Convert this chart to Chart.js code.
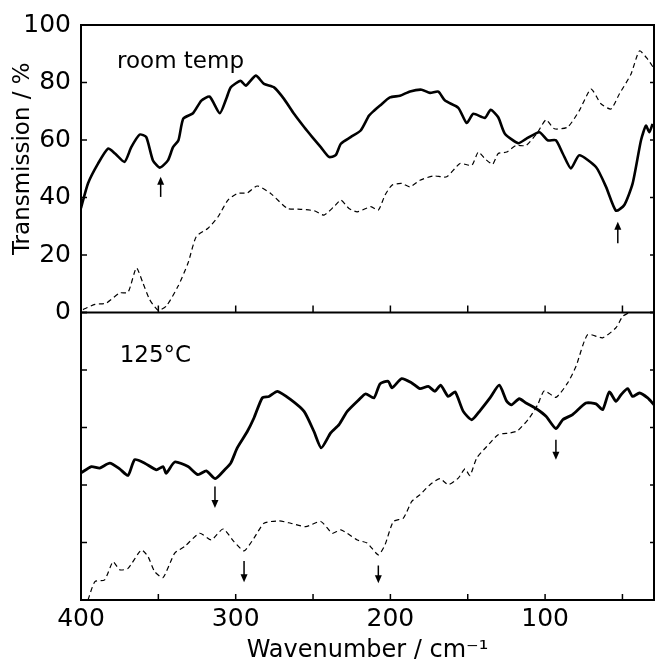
<!DOCTYPE html>
<html>
<head>
<meta charset="utf-8">
<script src="https://cdn.jsdelivr.net/npm/chart.js@4.4.1/dist/chart.umd.min.js"></script>
<style>
  html, body { margin: 0; padding: 0; background: #fff; }
  canvas { display: block; }
</style>
</head>
<body>
<canvas id="spectra" width="656" height="659"></canvas>
<script>
// Far-infrared transmission spectra; wavenumber runs from 400 down to ~30 cm-1.

// Upper panel (room temperature), thick trace
const roomSolidWn = [400, 395.5, 389, 382.5, 378, 371.8, 367.5, 362, 357.8, 353.5, 349, 343.8, 340.5, 337, 333.9, 327.6, 322.2, 316.8, 310.3, 305.8, 303.2, 296.8, 293.5, 287, 281.7, 275.2, 268.8, 262.3, 255.8, 250.5, 245, 239.7, 235.4, 232, 225.7, 219.2, 213.8, 210.6, 206.7, 200.3, 193.8, 187.3, 179.8, 174.4, 169, 164.7, 156.1, 150.7, 146.4, 138.9, 135.2, 130.3, 126, 117.3, 112.3, 103.7, 98.3, 93, 88.6, 83.3, 77.9, 67.1, 60.6, 54.2, 48.8, 43.4, 38, 34.8, 32.6, 30.5];
const roomSolidT  = [36.3, 44.9, 51.8, 57, 55.3, 52.4, 57.5, 61.9, 61, 52.9, 50.4, 52.9, 57.5, 59.9, 67.4, 69.3, 73.7, 75.1, 69.3, 74.8, 78.3, 80.6, 78.9, 82.4, 79.5, 78.3, 74.3, 69.1, 64.5, 61, 57.5, 54.1, 54.7, 58.7, 61, 63.3, 68.5, 70.2, 72, 74.8, 75.4, 76.9, 77.5, 76.4, 76.8, 73.7, 71.2, 65.9, 69.1, 67.7, 70.5, 67.9, 62.2, 58.9, 60.4, 62.7, 59.9, 59.9, 55.3, 50.1, 54.7, 50.6, 43.7, 35.4, 37.4, 44.9, 59.9, 65, 62.7, 65.6];

// Upper panel, thin dashed trace
const roomDashWn = [398.7, 391, 383.6, 375, 369.6, 364.2, 360, 355.6, 350.2, 344.9, 337.3, 330.8, 325.5, 317.9, 311.4, 305, 299, 292.5, 286, 277.4, 266.6, 258, 249.4, 242.9, 236.5, 232, 226.8, 221.4, 212.7, 207.8, 203.5, 199, 192.7, 187.3, 180.9, 172.2, 163.6, 155, 147.4, 143.2, 138.9, 133.9, 130.3, 124.8, 118.8, 112.3, 104.8, 99.4, 94, 85.4, 77.9, 70.3, 63.9, 57.4, 52, 44.5, 39, 33.7, 30];
const roomDashT  = [1, 2.8, 3.3, 6.8, 7, 15.5, 10.3, 4.5, 0.8, 2.2, 9.1, 17.2, 26.4, 29.3, 33.3, 39.1, 41.4, 41.6, 44, 41.4, 36.2, 35.9, 35.4, 33.9, 36.8, 39.1, 36.2, 35, 36.8, 35.6, 40.8, 44.3, 44.9, 43.7, 46, 47.5, 47.2, 51.8, 51.2, 55.8, 53.5, 51.6, 55.3, 55.8, 58.1, 58.1, 62.7, 67, 63.9, 64.5, 70.2, 77.7, 72.6, 70.8, 76, 82.9, 91, 88.1, 85.2];

// Lower panel (125 °C), thick trace
const hotSolidWn = [400, 393.3, 387.9, 381.4, 375, 369.6, 365.3, 358.8, 351.3, 347, 344.9, 339.4, 330.8, 324.4, 319, 313.2, 307.1, 303.2, 299, 292.5, 288.2, 282.8, 278.5, 273, 264.4, 255.8, 249.4, 244.7, 238.6, 233.2, 227.9, 220.3, 216, 210.6, 206.7, 201.4, 199, 192.7, 186.2, 180.9, 175.5, 171.2, 167.5, 162.6, 158.2, 152.9, 147.4, 142, 135.6, 129.6, 124.8, 121.6, 116.7, 112.3, 105.9, 99.4, 93, 88.6, 82.2, 73.6, 67.1, 62.8, 58.5, 54.2, 50.9, 46.6, 43.4, 39, 33.7, 29.6];
const hotSolidT  = [44.2, 46.4, 45.9, 47.6, 45.6, 43.3, 48.8, 47.6, 45.3, 46.4, 44.1, 48, 46.4, 43.6, 44.9, 42.2, 45.3, 47.6, 52.9, 58.6, 63.3, 70.3, 70.8, 72.6, 69.7, 65.6, 58.6, 52.9, 58.1, 61, 65.6, 69.7, 71.7, 70.3, 75.2, 76.1, 73.8, 77, 75.5, 73.5, 74.3, 72.6, 74.7, 70.8, 72.4, 65.6, 62.7, 65.9, 70.3, 74.7, 69.1, 67.9, 70, 68.5, 66.6, 63.9, 59.6, 62.7, 64.5, 68.5, 68.2, 66.2, 72.4, 69.1, 71.4, 73.5, 70.8, 72, 70.3, 67.9];

// Lower panel, thin dashed trace
const hotDashWn = [395.5, 391, 384.7, 379.3, 375, 369.6, 361, 356.7, 352.4, 347, 339.4, 333, 323.3, 315.8, 308.2, 301.1, 294.6, 288.2, 281.7, 272, 264.4, 254.7, 245, 237.5, 232, 221.4, 215, 207.8, 203.5, 198.1, 191.6, 186.2, 180.9, 174.4, 167.9, 162.6, 156.1, 151.8, 148.6, 144.2, 137.7, 130.3, 122.7, 117.7, 110.2, 104.8, 100.5, 93, 85.4, 80, 72.5, 62.8, 54.2, 49.8, 45.6];
const hotDashT  = [0, 6.4, 7, 13.3, 10.5, 11, 17.4, 15.1, 9.9, 7.8, 16.3, 18.6, 23.2, 20.9, 24.7, 20.3, 17.1, 21.5, 26.7, 27.5, 26.7, 25.5, 27.3, 23.2, 24.4, 20.9, 19.8, 15.7, 19.2, 27.3, 28.5, 34.3, 36.6, 40.1, 42.2, 40.1, 42.4, 45.6, 43.3, 49.4, 53.4, 57.5, 58.1, 58.9, 63.3, 67.9, 72.8, 70.5, 75.5, 81.3, 92.3, 91.2, 94.7, 98.7, 100];

// Axis ticks
const tTicks = [0, 20, 40, 60, 80, 100];
const wnLabelTicks = [400, 300, 200, 100];
const wnMarkTicks = [400, 350, 300, 250, 200, 150, 100, 50];

// Band markers: [wavenumber, tail value, head value]
const roomArrows = [[348.5, 40.2, 47.2], [53, 24.1, 31.6]];
const hotArrows = [[313.4, 39.5, 32], [294.6, 13.6, 6.2], [207.8, 12, 5.8], [93, 55.7, 48.8]];

// Panel captions: [text, wavenumber at left edge, value at baseline]
const roomCaption = ['room temp', 376.7, 85.1];
const hotCaption = ['125°C', 375, 82.9];

const FONT = '"DejaVu Sans", sans-serif';
Chart.defaults.font.family = FONT;
Chart.defaults.color = '#000';

const pts = (xs, ys) => xs.map((x, i) => ({ x, y: ys[i] }));

const solid = { borderColor: '#000', borderWidth: 2.6, pointRadius: 0, tension: 0.2, fill: false };
const dashed = { borderColor: '#000', borderWidth: 1.2, borderDash: [5, 3.5], pointRadius: 0, tension: 0.2, fill: false };

const framePlugin = {
  id: 'frameAndMarks',
  afterDatasetsDraw(chart) {
    const { ctx, chartArea: a, scales } = chart;
    const x = scales.x, yTop = scales.yTop, yBot = scales.yBot;
    const seg = (x1, y1, x2, y2) => { ctx.beginPath(); ctx.moveTo(x1, y1); ctx.lineTo(x2, y2); ctx.stroke(); };
    ctx.save();
    ctx.strokeStyle = '#000';
    ctx.fillStyle = '#000';
    ctx.lineCap = 'butt';

    // Frame around both panels and the divider between them
    ctx.lineWidth = 2;
    ctx.strokeRect(a.left, a.top, a.right - a.left, a.bottom - a.top);
    const mid = yTop.bottom;
    seg(a.left, mid, a.right, mid);

    // Inward tick marks
    ctx.lineWidth = 1.5;
    wnMarkTicks.forEach(v => {
      const px = x.getPixelForValue(v);
      seg(px, mid, px, mid - 7);
      seg(px, a.bottom, px, a.bottom - 6);
    });
    [yTop, yBot].forEach(s => tTicks.forEach(v => {
      const py = s.getPixelForValue(v);
      seg(a.left, py, a.left + 6, py);
      seg(a.right, py, a.right - 4, py);
    }));

    // Band-position arrows
    const arrow = (scale, [wn, from, to]) => {
      const px = x.getPixelForValue(wn);
      const y1 = scale.getPixelForValue(from);
      const y2 = scale.getPixelForValue(to);
      const dir = Math.sign(y2 - y1);
      ctx.lineWidth = 1.5;
      seg(px, y1, px, y2 - dir * 6);
      ctx.beginPath();
      ctx.moveTo(px, y2);
      ctx.lineTo(px - 3.5, y2 - dir * 8);
      ctx.lineTo(px + 3.5, y2 - dir * 8);
      ctx.closePath();
      ctx.fill();
    };
    roomArrows.forEach(r => arrow(yTop, r));
    hotArrows.forEach(r => arrow(yBot, r));

    // Panel captions
    ctx.font = '23px ' + FONT;
    ctx.textAlign = 'left';
    ctx.textBaseline = 'alphabetic';
    ctx.fillText(roomCaption[0], x.getPixelForValue(roomCaption[1]), yTop.getPixelForValue(roomCaption[2]));
    ctx.fillText(hotCaption[0], x.getPixelForValue(hotCaption[1]), yBot.getPixelForValue(hotCaption[2]));

    // Vertical axis title
    ctx.translate(23, yTop.top + (yTop.bottom - yTop.top) * 0.465);
    ctx.rotate(-Math.PI / 2);
    ctx.textAlign = 'center';
    ctx.textBaseline = 'middle';
    ctx.fillText('Transmission / %', 0, 0);
    ctx.restore();
  }
};

new Chart(document.getElementById('spectra'), {
  type: 'line',
  data: {
    datasets: [
      { ...solid, label: 'room temp', data: pts(roomSolidWn, roomSolidT), yAxisID: 'yTop' },
      { ...dashed, label: 'room temp, dashed', data: pts(roomDashWn, roomDashT), yAxisID: 'yTop' },
      { ...solid, borderWidth: 2.8, label: '125°C', data: pts(hotSolidWn, hotSolidT), yAxisID: 'yBot' },
      { ...dashed, label: '125°C, dashed', data: pts(hotDashWn, hotDashT), yAxisID: 'yBot' }
    ]
  },
  options: {
    responsive: false,
    animation: false,
    devicePixelRatio: 1,
    layout: { padding: { top: 24, right: 2, left: 0, bottom: 0 } },
    plugins: { legend: { display: false }, tooltip: { enabled: false } },
    scales: {
      x: {
        type: 'linear', reverse: true, min: 29.6, max: 400, position: 'bottom',
        grid: { display: false, drawTicks: false }, border: { display: false },
        afterBuildTicks: s => { s.ticks = wnLabelTicks.map(v => ({ value: v })); },
        afterFit: s => { s.height = 59; },
        ticks: { font: { size: 25, lineHeight: 1 }, padding: 7, maxRotation: 0, autoSkip: false },
        title: { display: true, text: 'Wavenumber / cm⁻¹', font: { size: 24, lineHeight: 1 }, padding: { top: 0, bottom: -4 } }
      },
      yBot: {
        type: 'linear', position: 'left', stack: 'panels', stackWeight: 1, min: 0, max: 100,
        grid: { display: false, drawTicks: false }, border: { display: false },
        ticks: { display: false },
        afterFit: s => { s.width = 81; }
      },
      yTop: {
        type: 'linear', position: 'left', stack: 'panels', stackWeight: 1, min: 0, max: 100,
        grid: { display: false, drawTicks: false }, border: { display: false },
        afterBuildTicks: s => { s.ticks = tTicks.map(v => ({ value: v })); },
        ticks: { font: { size: 25 }, padding: 10, autoSkip: false },
        afterFit: s => { s.width = 81; }
      }
    }
  },
  plugins: [framePlugin]
});
</script>
</body>
</html>
